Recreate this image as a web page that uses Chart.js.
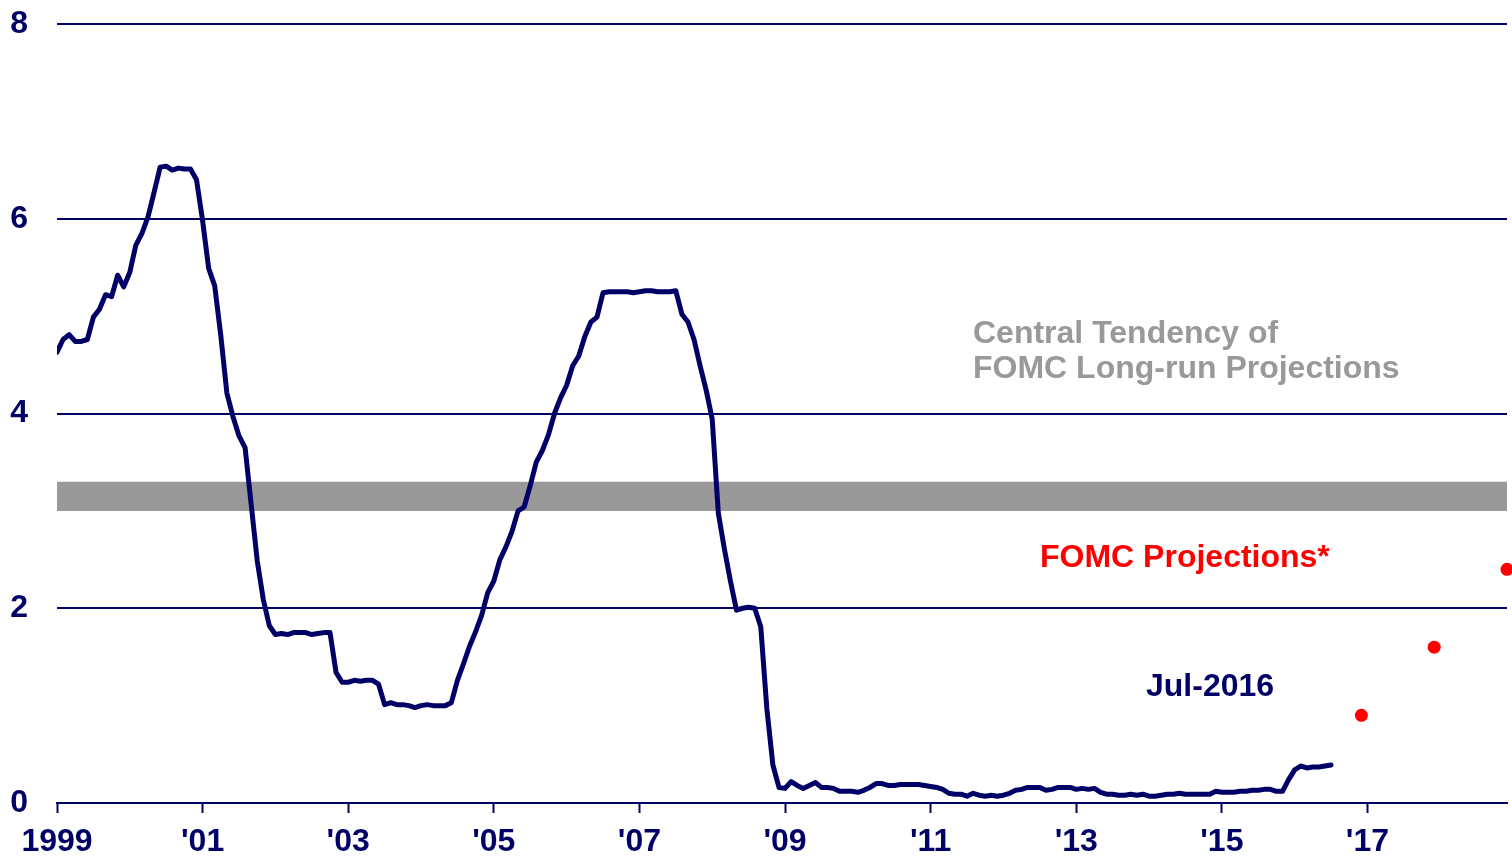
<!DOCTYPE html>
<html>
<head>
<meta charset="utf-8">
<title>Federal Funds Rate</title>
<script src="https://cdn.jsdelivr.net/npm/chart.js@4.4.1/dist/chart.umd.min.js"></script>
<style>
  html, body { margin: 0; padding: 0; background: #ffffff; }
  #wrap { width: 1512px; height: 857px; position: relative; }
</style>
</head>
<body>
<div id="wrap"><canvas id="chart" width="1512" height="857"></canvas></div>
<script>
// Effective federal funds rate, monthly averages (percent)
const rate1999 = [4.63, 4.76, 4.81, 4.74, 4.74, 4.76, 4.99, 5.07, 5.22, 5.20, 5.42, 5.30];
const rate2000 = [5.45, 5.73, 5.85, 6.02, 6.27, 6.53, 6.54, 6.50, 6.52, 6.51, 6.51, 6.40];
const rate2001 = [5.98, 5.49, 5.31, 4.80, 4.21, 3.97, 3.77, 3.65, 3.07, 2.49, 2.09, 1.82];
const rate2002 = [1.73, 1.74, 1.73, 1.75, 1.75, 1.75, 1.73, 1.74, 1.75, 1.75, 1.34, 1.24];
const rate2003 = [1.24, 1.26, 1.25, 1.26, 1.26, 1.22, 1.01, 1.03, 1.01, 1.01, 1.00, 0.98];
const rate2004 = [1.00, 1.01, 1.00, 1.00, 1.00, 1.03, 1.26, 1.43, 1.61, 1.76, 1.93, 2.16];
const rate2005 = [2.28, 2.50, 2.63, 2.79, 3.00, 3.04, 3.26, 3.50, 3.62, 3.78, 4.00, 4.16];
const rate2006 = [4.29, 4.49, 4.59, 4.79, 4.94, 4.99, 5.24, 5.25, 5.25, 5.25, 5.25, 5.24];
const rate2007 = [5.25, 5.26, 5.26, 5.25, 5.25, 5.25, 5.26, 5.02, 4.94, 4.76, 4.49, 4.24];
const rate2008 = [3.94, 2.98, 2.61, 2.28, 1.98, 2.00, 2.01, 2.00, 1.81, 0.97, 0.39, 0.16];
const rate2009 = [0.15, 0.22, 0.18, 0.15, 0.18, 0.21, 0.16, 0.16, 0.15, 0.12, 0.12, 0.12];
const rate2010 = [0.11, 0.13, 0.16, 0.20, 0.20, 0.18, 0.18, 0.19, 0.19, 0.19, 0.19, 0.18];
const rate2011 = [0.17, 0.16, 0.14, 0.10, 0.09, 0.09, 0.07, 0.10, 0.08, 0.07, 0.08, 0.07];
const rate2012 = [0.08, 0.10, 0.13, 0.14, 0.16, 0.16, 0.16, 0.13, 0.14, 0.16, 0.16, 0.16];
const rate2013 = [0.14, 0.15, 0.14, 0.15, 0.11, 0.09, 0.09, 0.08, 0.08, 0.09, 0.08, 0.09];
const rate2014 = [0.07, 0.07, 0.08, 0.09, 0.09, 0.10, 0.09, 0.09, 0.09, 0.09, 0.09, 0.12];
const rate2015 = [0.11, 0.11, 0.11, 0.12, 0.12, 0.13, 0.13, 0.14, 0.14, 0.12, 0.12, 0.24];
const rate2016 = [0.34, 0.38, 0.36, 0.37, 0.37, 0.38, 0.39];

// FOMC projections for the year-end rate
const projDates = ['2016-12', '2017-12', '2018-12'];
const projValues = [0.9, 1.6, 2.4];

// Central tendency range of the long-run projections
const longRunLow = 3.0;
const longRunHigh = 3.3;

// Time axis: first and last month shown, tick every two years
const firstMonth = '1999-01';
const lastMonth = '2018-12';
const tickYears = [1999, 2001, 2003, 2005, 2007, 2009, 2011, 2013, 2015, 2017];
const tickLabels = ['1999', "'01", "'03", "'05", "'07", "'09", "'11", "'13", "'15", "'17"];
const yTicks = [0, 2, 4, 6, 8];

const NAVY = '#000066';
const FONT = "'Liberation Sans', Arial, Helvetica, sans-serif";

function monthIndex(ym) {
  const [y, m] = ym.split('-').map(Number);
  const [y0, m0] = firstMonth.split('-').map(Number);
  return (y - y0) * 12 + (m - m0);
}

const rates = [].concat(rate1999, rate2000, rate2001, rate2002, rate2003, rate2004,
  rate2005, rate2006, rate2007, rate2008, rate2009, rate2010, rate2011, rate2012,
  rate2013, rate2014, rate2015, rate2016);
const ratePoints = rates.map((v, i) => ({ x: i, y: v }));
const projPoints = projDates.map((d, i) => ({ x: monthIndex(d), y: projValues[i] }));
const xMax = monthIndex(lastMonth);
const bandLowPts = [{ x: 0, y: longRunLow }, { x: xMax, y: longRunLow }];
const bandHighPts = [{ x: 0, y: longRunHigh }, { x: xMax, y: longRunHigh }];
const tickPositions = tickYears.map(y => monthIndex(y + '-01'));

// Text notes placed on the plot
const notes = {
  id: 'notes',
  afterDatasetsDraw(chart) {
    const ctx = chart.ctx;
    ctx.save();
    ctx.font = 'bold 32px ' + FONT;
    ctx.textAlign = 'left';
    ctx.textBaseline = 'alphabetic';
    ctx.fillStyle = '#999999';
    ctx.fillText('Central Tendency of', 973, 343);
    ctx.fillText('FOMC Long-run Projections', 973, 378);
    ctx.fillStyle = '#ff0000';
    ctx.fillText('FOMC Projections*', 1040, 567);
    ctx.fillStyle = NAVY;
    ctx.fillText('Jul-2016', 1146, 696);
    ctx.restore();
  }
};

new Chart(document.getElementById('chart'), {
  type: 'line',
  data: {
    datasets: [
      {
        label: 'FOMC projections',
        data: projPoints,
        showLine: false,
        pointRadius: 6.5,
        pointHoverRadius: 6.5,
        pointBackgroundColor: '#ff0000',
        pointBorderWidth: 0,
        clip: false,
        order: 0
      },
      {
        label: 'Federal funds rate',
        data: ratePoints,
        borderColor: NAVY,
        borderWidth: 5,
        borderJoinStyle: 'round',
        borderCapStyle: 'round',
        pointRadius: 0,
        tension: 0,
        order: 1
      },
      {
        label: 'Long-run high',
        data: bandHighPts,
        borderWidth: 0,
        pointRadius: 0,
        backgroundColor: '#999999',
        fill: '+1',
        order: 2
      },
      {
        label: 'Long-run low',
        data: bandLowPts,
        borderWidth: 0,
        pointRadius: 0,
        order: 3
      }
    ]
  },
  options: {
    responsive: false,
    animation: false,
    events: [],
    layout: { autoPadding: false, padding: { top: 24, right: 5, left: 0, bottom: 0 } },
    plugins: {
      legend: { display: false },
      tooltip: { enabled: false }
    },
    scales: {
      x: {
        type: 'linear',
        min: 0,
        max: xMax,
        afterBuildTicks(scale) {
          scale.ticks = tickPositions.map(v => ({ value: v }));
        },
        afterFit(scale) {
          scale.height = 54;
          scale.paddingLeft = 0;
          scale.paddingRight = 0;
        },
        ticks: {
          autoSkip: false,
          maxRotation: 0,
          padding: 10,
          color: NAVY,
          font: { family: FONT, size: 32, weight: 'bold' },
          callback(value) {
            const i = tickPositions.indexOf(value);
            return i >= 0 ? tickLabels[i] : '';
          }
        },
        grid: {
          drawOnChartArea: false,
          drawTicks: true,
          tickLength: 10,
          tickWidth: 2,
          tickColor: NAVY
        },
        border: { display: true, color: NAVY, width: 2 }
      },
      y: {
        min: 0,
        max: 8,
        afterBuildTicks(scale) {
          scale.ticks = yTicks.map(v => ({ value: v }));
        },
        afterFit(scale) {
          scale.width = 57;
          scale.paddingTop = 0;
          scale.paddingBottom = 0;
        },
        ticks: {
          padding: 29,
          color: NAVY,
          font: { family: FONT, size: 32, weight: 'bold' }
        },
        grid: {
          drawTicks: false,
          color: NAVY,
          lineWidth: 2
        },
        border: { display: false }
      }
    }
  },
  plugins: [notes]
});
</script>
</body>
</html>
